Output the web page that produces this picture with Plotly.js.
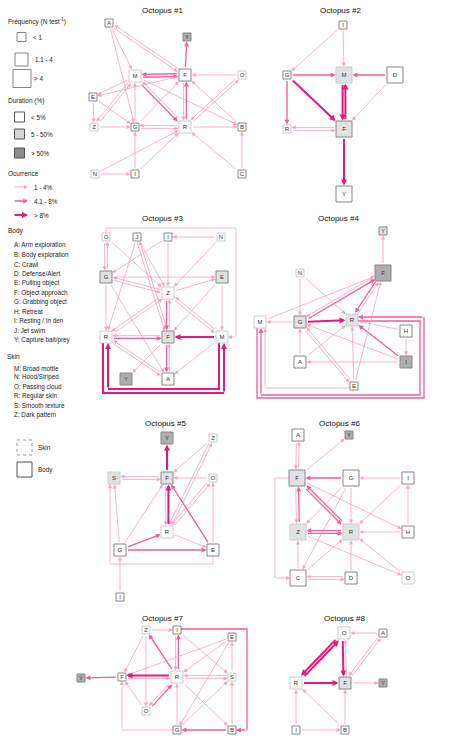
<!DOCTYPE html>
<html><head><meta charset="utf-8">
<script src="https://cdn.plot.ly/plotly-3.0.1.min.js"></script>
<style>html,body{margin:0;padding:0;background:#fff}#chart{width:450px;height:738px}</style>
</head><body><div id="chart"></div>
<script>
// ================= DATA =================
const octopusTitles = ['Octopus #1','Octopus #2','Octopus #3','Octopus #4','Octopus #5','Octopus #6','Octopus #7','Octopus #8'];
const skinStates = ['M','N','O','R','S','Z'];
// frequency class: 1 = <1, 2 = 1.1-4, 3 = >4 ; duration class: 1 = <5%, 2 = 5-50%, 3 = >50%
// occurrence class of a transition: 1 = 1-4%, 2 = 4.1-8%, 3 = >8%
const o1Nodes = ['A','Y','M','F','O','E','Z','G','R','B','N','I','C'];
const o1Freq  = [1,1,2,2,1,1,1,1,2,1,1,1,1];
const o1Dur   = [1,3,1,1,1,1,1,1,1,1,1,1,1];
const o1Edges = [['F','Y',2],['M','F',2],['F','M',2],['A','F',1],['F','A',1],['A','M',1],['A','G',1],
  ['M','E',1],['M','Z',1],['Z','M',1],['G','M',1],['M','R',2],['R','M',1],['M','B',1],['E','Z',1],['E','G',1],
  ['F','E',1],['O','F',1],['O','R',1],['R','O',1],['G','F',1],['R','F',2],['F','R',1],['B','F',1],['Z','G',1],
  ['G','R',1],['R','G',1],['R','B',1],['N','I',1],['N','R',1],['I','G',1],['I','R',1],['C','B',1],['C','R',1]];

const o2Nodes = ['I','G','M','D','R','F','Y'];
const o2Freq  = [1,1,3,3,1,3,3];
const o2Dur   = [1,1,2,1,1,2,1];
const o2Edges = [['I','G',1],['I','M',1],['G','M',2],['D','M',2],['G','F',3],['G','R',2],['M','F',3],['F','M',3],
  ['D','F',1],['F','R',1],['R','F',1],['F','Y',3]];

const o3Nodes = ['O','J','I','N','G','E','Z','R','F','M','Y','A'];
const o3Freq  = [1,1,1,1,2,2,2,2,2,2,2,2];
const o3Dur   = [1,1,1,1,2,2,1,1,2,1,3,1];
const o3Edges = [['N','I',1],['N','Z',1],['I','G',1],['I','Z',1],['O','G',1],['G','O',1],['O','Z',1],
  ['J','Z',1],['J','F',1],['F','J',1],['J','R',1],['G','E',1],['G','Z',1],['Z','G',1],['G','R',1],['G','A',1],
  ['E','M',1],['E','F',1],['Z','E',1],['Z','F',2],['F','Z',1],['Z','R',1],['R','Z',1],['Z','M',1],['M','Z',1],
  ['R','F',2],['F','R',1],['M','F',3],['F','Y',1],['F','A',2],['A','F',1],['R','A',1],['A','R',1],['M','A',1],
  ['R','M',3],['M','R',3],['O','M',1]];

const o4Nodes = ['Y','F','N','M','G','R','H','A','I','E'];
const o4Freq  = [1,3,1,2,2,2,2,2,2,1];
const o4Dur   = [2,3,1,1,2,2,1,1,3,1];
const o4Edges = [['F','Y',1],['M','F',1],['G','M',1],['G','F',2],['F','G',1],['F','R',2],['R','F',1],['G','R',3],
  ['N','G',1],['N','R',1],['A','G',1],['A','R',1],['H','R',1],['H','I',1],['I','R',2],['I','G',1],['I','A',1],
  ['E','G',1],['G','E',1],['E','F',1],['E','R',1],['M','R',2],['R','M',2],['E','M',1]];

const o5Nodes = ['Y','Z','S','F','O','R','G','E','I'];
const o5Freq  = [2,1,2,2,1,2,2,2,1];
const o5Dur   = [3,1,2,2,1,1,1,1,1];
const o5Edges = [['F','Y',3],['F','S',1],['S','F',1],['Z','F',1],['Z','R',1],['R','Z',1],['O','F',1],['O','R',1],
  ['R','O',1],['R','F',3],['F','R',1],['G','F',1],['G','S',1],['G','R',2],['G','E',2],['E','F',2],['R','E',1],
  ['E','O',1],['E','S',1],['I','G',1]];

const o6Nodes = ['A','Y','F','G','I','Z','R','H','C','D','O'];
const o6Freq  = [2,1,3,3,2,3,3,2,3,2,2];
const o6Dur   = [1,3,2,1,1,2,2,1,1,1,1];
const o6Edges = [['A','F',1],['F','A',1],['F','Y',1],['G','F',2],['I','G',1],['F','Z',1],['Z','F',2],['F','R',2],
  ['R','F',2],['F','H',1],['G','Z',1],['G','R',1],['G','C',1],['I','R',1],['H','I',1],['H','R',1],['R','Z',2],
  ['Z','R',2],['Z','O',1],['C','Z',1],['C','R',1],['C','D',1],['D','C',1],['D','R',1],['O','R',1],['F','C',1]];

const o7Nodes = ['Z','I','E','Y','F','R','S','O','G','B'];
const o7Freq  = [1,1,1,1,1,2,1,1,1,1];
const o7Dur   = [1,1,1,3,1,1,1,1,1,1];
const o7Edges = [['F','Y',2],['Z','I',1],['Z','F',1],['Z','O',1],['R','Z',2],['I','R',1],['R','I',2],['I','S',1],
  ['I','B',2],['E','F',1],['E','R',1],['E','G',1],['S','E',1],['F','R',1],['R','F',3],['R','S',1],['S','R',1],
  ['O','F',1],['O','R',2],['R','O',1],['R','B',1],['G','R',1],['G','S',1],['G','F',1],['B','G',2],['B','S',1]];

const o8Nodes = ['O','A','R','F','Y','I','B'];
const o8Freq  = [2,1,2,2,1,1,1];
const o8Dur   = [1,1,1,2,3,1,1];
const o8Edges = [['A','O',1],['A','F',1],['F','A',1],['R','O',3],['O','R',3],['O','F',3],['F','O',1],['R','F',3],
  ['F','Y',1],['I','R',1],['I','B',1],['B','R',1],['B','F',1]];

const bodyLegend = ['A: Arm exploration','B: Body exploration','C: Crawl','D: Defense/Alert','E: Pulling object',
  'F: Object approach','G: Grabbing object','H: Retreat','I: Resting / In den','J: Jet swim','Y: Capture bait/prey'];
const skinLegend = ['M: Broad mottle','N: Hood/Striped','O: Passing cloud','R: Regular skin','S: Smooth texture','Z: Dark pattern'];
const freqLegend = ['< 1','1.1 - 4','> 4'];
const durLegend = ['< 5%','5 - 50%','> 50%'];
const occLegend = ['1 - 4%','4.1 - 8%','> 8%'];

// ================= LAYOUT (positions / styles) =================
const POS = {
 1:{A:[109,23],Y:[187,37],M:[135,76],F:[185,75],O:[242,75],E:[93,97],Z:[94,127],G:[135,127],R:[185,127],B:[242,127],N:[95,174],I:[135,174],C:[242,174]},
 2:{I:[343,25],G:[287,75],M:[344,75],D:[395,75],R:[287,129],F:[344,129],Y:[344,194]},
 3:{O:[106,237],J:[137,237],I:[168,237],N:[221,237],G:[106,277],E:[222,277],Z:[168,293],R:[106,337],F:[168,337],M:[222,337],Y:[126,379],A:[168,379]},
 4:{Y:[383,231],F:[383,273],N:[300,273],M:[260,322],G:[300,322],R:[352,320],H:[406,331],A:[300,362],I:[406,362],E:[354,386]},
 5:{Y:[167,438],Z:[213,438],S:[114,478],F:[167,478],O:[213,478],R:[167,532],G:[120,550],E:[213,550],I:[120,597]},
 6:{A:[298,435],Y:[349,435],F:[297,478],G:[351,478],I:[408,478],Z:[298,532],R:[351,532],H:[408,532],C:[298,578],D:[351,578],O:[408,578]},
 7:{Z:[146,630],I:[177,630],E:[232,637],Y:[81,678],F:[122,677],R:[177,677],S:[232,677],O:[146,711],G:[177,730],B:[232,730]},
 8:{O:[344,633],A:[383,633],R:[296,683],F:[345,683],Y:[383,683],I:[296,730],B:[345,730]}
};
const TITLE_POS = [[162,10],[340,10],[162,218],[338,218],[165,423],[339,423],[162,618],[344,618]];
const ROUTES = {
 '3:R-M':[[103,343],[103,393],[224,393],[224,343]],
 '3:M-R':[[219,343],[219,389],[108,389],[108,343]],
 '3:O-M':[[106,233],[106,228],[236,228],[236,337],[228,337]],
 '4:M-R':[[257,328],[257,398],[424,398],[424,317],[358,317]],
 '4:R-M':[[358,321],[420,321],[420,395],[261,395],[261,328]],
 '4:E-M':[[350,388],[265,388],[265,328]],
 '5:E-S':[[213,556],[213,564],[110,564],[110,484]],
 '6:F-C':[[289,478],[275,478],[275,578],[290,578]],
 '7:I-B':[[181,629],[247,629],[247,730],[236,730]],
 '7:G-F':[[173,730],[122,730],[122,681]]
};
const SIZE = {1:8, 2:12, 3:16};
const FILL = {1:'#ffffff', 2:'#d6d6d6', 3:'#8c8c8c'};
const EDGE = {1:{color:'#f8a0c4',width:0.8,size:1.0}, 2:{color:'#f25c9c',width:1.3,size:0.75}, 3:{color:'#e8187b',width:2.0,size:0.6}};
const FONT = 'Liberation Sans, Arial, sans-serif';
const OFF = 1.4;

const traces = [];
const ann = [];
const shapes = [];

function arrow(t, h, st, s0, s1) {
  return {x:h[0], y:h[1], ax:t[0], ay:t[1], xref:'x', yref:'y', axref:'x', ayref:'y', text:'', showarrow:true,
    arrowhead:2, arrowsize:st.size, arrowwidth:st.width, arrowcolor:st.color, standoff:s1, startstandoff:s0};
}
function edgeStand(size, dx, dy) {
  const L = Math.hypot(dx, dy) || 1;
  return size/2 / Math.max(Math.abs(dx)/L, Math.abs(dy)/L) + 0.5;
}

function drawOctopus(k, nodes, freq, dur, edges) {
  const P = POS[k];
  const sz = n => SIZE[freq[nodes.indexOf(n)]];
  edges.forEach(([a, b, c]) => {
    const st = EDGE[c];
    const key = k + ':' + a + '-' + b;
    if (ROUTES[key]) {
      const pts = ROUTES[key];
      const line = pts.slice(0, -1);
      traces.push({x:line.map(p=>p[0]), y:line.map(p=>p[1]), mode:'lines', line:{color:st.color, width:st.width},
        hoverinfo:'skip', showlegend:false});
      ann.push(arrow(pts[pts.length-2], pts[pts.length-1], st, 0, 0));
    } else {
      let [x1, y1] = P[a], [x2, y2] = P[b];
      const dx = x2-x1, dy = y2-y1, L = Math.hypot(dx, dy);
      const rev = edges.some(e => e[0]===b && e[1]===a && !ROUTES[k+':'+b+'-'+a]);
      if (rev) { const ox = -dy/L*OFF, oy = dx/L*OFF; x1+=ox; y1+=oy; x2+=ox; y2+=oy; }
      ann.push(arrow([x1,y1],[x2,y2],st, edgeStand(sz(a),dx,dy), edgeStand(sz(b),dx,dy)));
    }
  });
  traces.push({
    x: nodes.map(n => P[n][0]), y: nodes.map(n => P[n][1]), mode:'markers+text', text: nodes,
    textposition:'middle center', textfont:{family:FONT, size:6, color:'#333'},
    marker:{symbol:'square', size: freq.map(f=>SIZE[f]), color: dur.map(d=>FILL[d]),
      line:{width:1, color: nodes.map(n => skinStates.includes(n) ? '#b8b8b8' : '#555')}},
    hoverinfo:'text', showlegend:false
  });
}

const octData = [
  [o1Nodes,o1Freq,o1Dur,o1Edges],[o2Nodes,o2Freq,o2Dur,o2Edges],[o3Nodes,o3Freq,o3Dur,o3Edges],[o4Nodes,o4Freq,o4Dur,o4Edges],
  [o5Nodes,o5Freq,o5Dur,o5Edges],[o6Nodes,o6Freq,o6Dur,o6Edges],[o7Nodes,o7Freq,o7Dur,o7Edges],[o8Nodes,o8Freq,o8Dur,o8Edges]];
octData.forEach((d, i) => drawOctopus(i+1, d[0], d[1], d[2], d[3]));

octopusTitles.forEach((t, i) => ann.push({x:TITLE_POS[i][0], y:TITLE_POS[i][1], xref:'x', yref:'y', text:t, showarrow:false,
  font:{family:FONT, size:8, color:'#111'}}));

// ---- legend ----
function ltext(x, y, t, s) {
  ann.push({x:x, y:y, xref:'x', yref:'y', text:t, showarrow:false, xanchor:'left', yanchor:'middle',
    font:{family:FONT, size:s||6.3, color:'#222'}});
}
ltext(6, 21, 'Frequency (N test<sup>-1</sup>)', 6.5);
const fY = [37, 59.5, 78.5], fX = [21.5, 21.5, 22], fS = [9, 13, 18], fT = [31, 33, 32];
traces.push({x:fX, y:fY, mode:'markers', marker:{symbol:'square', size:fS, color:'#fff', line:{width:1, color:'#555'}},
  hoverinfo:'skip', showlegend:false});
freqLegend.forEach((t, i) => ltext(fT[i], fY[i], t));
ltext(6, 101, 'Duration (%)', 6.5);
const dY = [117, 134, 153];
traces.push({x:[19.5,19.5,19.5], y:dY, mode:'markers', marker:{symbol:'square', size:10, color:[FILL[1],FILL[2],FILL[3]],
  line:{width:1, color:'#555'}}, hoverinfo:'skip', showlegend:false});
durLegend.forEach((t, i) => ltext(29, dY[i], t));
ltext(6, 173, 'Ocurrence', 6.5);
const oY = [187, 201, 215];
occLegend.forEach((t, i) => { ann.push(arrow([13, oY[i]], [28, oY[i]], EDGE[i+1], 0, 0)); ltext(32, oY[i], t); });
ltext(6, 231, 'Body', 6.5);
bodyLegend.forEach((t, i) => ltext(12, 245 + i*9.5, t));
ltext(5, 356, 'Skin', 6.5);
skinLegend.forEach((t, i) => ltext(12, 368 + i*9.3, t));
shapes.push({type:'rect', xref:'x', yref:'y', x0:17, x1:32, y0:440, y1:455, line:{color:'#777', width:0.8, dash:'dot'}, fillcolor:'#fff'});
ltext(36, 447, 'Skin');
traces.push({x:[24.5], y:[469.5], mode:'markers', marker:{symbol:'square', size:15, color:'#fff', line:{width:1, color:'#555'}},
  hoverinfo:'skip', showlegend:false});
ltext(36, 470, 'Body');

Plotly.newPlot('chart', traces, {
  width:450, height:738, margin:{l:0, r:0, t:0, b:0}, paper_bgcolor:'#fff', plot_bgcolor:'#fff',
  xaxis:{range:[0,450], visible:false, fixedrange:true},
  yaxis:{range:[738,0], visible:false, fixedrange:true},
  annotations:ann, shapes:shapes, showlegend:false
}, {staticPlot:true, displayModeBar:false});
</script></body></html>
